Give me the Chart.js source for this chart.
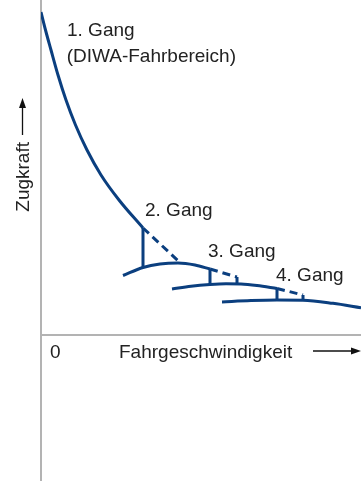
<!DOCTYPE html>
<html>
<head>
<meta charset="utf-8">
<script src="https://cdn.jsdelivr.net/npm/chart.js@4/dist/chart.umd.min.js"></script>
<style>
  html, body { margin: 0; padding: 0; background: #fff; }
  #wrap { width: 361px; height: 481px; }
</style>
</head>
<body>
<div id="wrap"><canvas id="chart" width="361" height="481"></canvas></div>
<script>
// curves of the 4 gears (x = speed, y = traction, arbitrary units)
const gear1X = [0, 4.5, 10, 17, 25, 34.5, 46, 60, 78, 102];
const gear1Y = [323, 305, 285, 260, 235, 210, 185, 160, 135, 107];
const gear2X = [82, 102, 119, 137, 154, 169];
const gear2Y = [59.5, 67.5, 71, 72, 70, 66];
const gear3X = [131, 150, 169, 185, 200, 216, 236];
const gear3Y = [46, 48.8, 50.5, 51.2, 51, 49.5, 46.5];
const gear4X = [181, 210, 236, 262, 292, 320];
const gear4Y = [33, 34.4, 35, 34.8, 31.7, 27.3];

// shift points: solid drop, dashed continuation, small foot
const shiftX = [102, 169, 236];
const shiftTop = [107, 66, 46.5];
const shiftBottom = [67.5, 50.5, 35];
const dashEndX = [139, 196, 262];
const dashEndY = [72.5, 58, 40];
const dashFootY = [null, 51, 34.8];

const labelText = ['1. Gang', '(DIWA-Fahrbereich)', '2. Gang', '3. Gang', '4. Gang', '0', 'Fahrgeschwindigkeit'];
const labelX = [26, 25.7, 104, 167, 235, 9, 78];
const labelY = [299, 273, 119, 78, 54, -23, -23];

const BLUE = '#0b3f7f';
const toPts = (xs, ys) => xs.map((x, i) => ({ x, y: ys[i] }));

const datasets = [];
[[gear1X, gear1Y], [gear2X, gear2Y], [gear3X, gear3Y], [gear4X, gear4Y]].forEach(([xs, ys]) => {
  datasets.push({ data: toPts(xs, ys), cubicInterpolationMode: 'monotone' });
});
shiftX.forEach((sx, i) => {
  datasets.push({ data: [{ x: sx, y: shiftTop[i] }, { x: sx, y: shiftBottom[i] }] });
  datasets.push({ data: [{ x: sx, y: shiftTop[i] }, { x: dashEndX[i], y: dashEndY[i] }], borderDash: [8, 5] });
  if (dashFootY[i] !== null) {
    datasets.push({ data: [{ x: dashEndX[i], y: dashEndY[i] }, { x: dashEndX[i], y: dashFootY[i] }] });
  }
});
datasets.forEach(d => {
  d.showLine = true;
  d.borderColor = BLUE;
  d.borderWidth = 3;
  d.pointRadius = 0;
  d.fill = false;
});

function drawArrow(ctx, x1, y1, x2, y2) {
  const a = Math.atan2(y2 - y1, x2 - x1);
  const len = 10, half = 3.5;
  ctx.beginPath();
  ctx.moveTo(x1, y1);
  ctx.lineTo(x2 - Math.cos(a) * len, y2 - Math.sin(a) * len);
  ctx.stroke();
  ctx.beginPath();
  ctx.moveTo(x2, y2);
  ctx.lineTo(x2 - Math.cos(a) * len - Math.sin(a) * half, y2 - Math.sin(a) * len + Math.cos(a) * half);
  ctx.lineTo(x2 - Math.cos(a) * len + Math.sin(a) * half, y2 - Math.sin(a) * len - Math.cos(a) * half);
  ctx.closePath();
  ctx.fill();
}

const annotations = {
  id: 'annotations',
  afterDatasetsDraw(chart) {
    const { ctx, scales: { x, y } } = chart;
    ctx.save();
    ctx.font = '19px "Liberation Sans", Arial, sans-serif';
    ctx.fillStyle = '#222';
    ctx.textBaseline = 'alphabetic';
    labelText.forEach((t, i) => {
      ctx.fillText(t, x.getPixelForValue(labelX[i]), y.getPixelForValue(labelY[i]));
    });

    // y axis title, rotated
    ctx.save();
    ctx.translate(x.getPixelForValue(-12.4), y.getPixelForValue(123.3));
    ctx.rotate(-Math.PI / 2);
    ctx.fillText('Zugkraft', 0, 0);
    ctx.restore();

    ctx.strokeStyle = '#111';
    ctx.fillStyle = '#111';
    ctx.lineWidth = 1.3;
    drawArrow(ctx, x.getPixelForValue(272), y.getPixelForValue(-16), x.getPixelForValue(320), y.getPixelForValue(-16));
    drawArrow(ctx, x.getPixelForValue(-18.5), y.getPixelForValue(200), x.getPixelForValue(-18.5), y.getPixelForValue(237));
    ctx.restore();
  }
};

new Chart(document.getElementById('chart'), {
  type: 'scatter',
  data: { datasets },
  plugins: [annotations],
  options: {
    responsive: false,
    animation: false,
    layout: { padding: 0 },
    plugins: { legend: { display: false }, tooltip: { enabled: false } },
    scales: {
      x: { type: 'linear', min: 0, max: 320, display: false },
      y: {
        type: 'linear',
        min: -146,
        max: 335,
        afterBuildTicks: s => { s.ticks = [{ value: 0 }]; },
        afterFit: s => { s.width = 41; },
        ticks: { display: false },
        grid: {
          drawTicks: false,
          lineWidth: 2,
          color: c => (c.tick && c.tick.value === 0 ? '#b3b3b3' : 'transparent')
        },
        border: { display: true, color: '#b3b3b3', width: 2 }
      }
    }
  }
});
</script>
</body>
</html>
